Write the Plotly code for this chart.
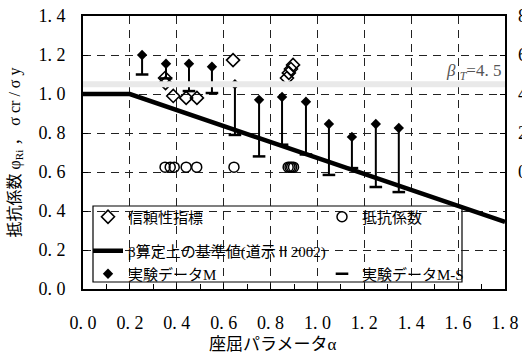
import plotly.graph_objects as go

# ---------------- data ----------------
# experimental data M (filled diamonds) and M-S (dash) versus buckling parameter alpha
alpha_exp = [0.252, 0.354, 0.452, 0.550, 0.648, 0.751, 0.849, 0.951, 1.049, 1.147, 1.249, 1.347]
phi_M = [1.20, 1.155, 1.155, 1.14, 1.05, 0.97, 0.985, 0.96, 0.846, 0.78, 0.846, 0.826]
phi_MS = [1.10, 1.08, 1.015, 1.005, 0.79, 0.68, 0.74, 0.69, 0.585, 0.62, 0.523, 0.497]

# reliability index (open diamonds, right axis)
alpha_beta = [0.350, 0.352, 0.385, 0.440, 0.486, 0.640, 0.870, 0.878, 0.887, 0.896]
beta_vals = [4.82, 4.56, 3.90, 3.80, 3.80, 5.74, 4.82, 5.08, 5.28, 5.49]

# resistance factor (open circles)
alpha_phi = [0.350, 0.372, 0.389, 0.440, 0.485, 0.644, 0.875, 0.883, 0.890, 0.898]
phi_vals = [0.625, 0.625, 0.625, 0.625, 0.625, 0.625, 0.625, 0.625, 0.625, 0.625]

# design basis curve (道示II 2002)
alpha_base = [0.0, 0.2, 1.8]
phi_base = [1.0, 1.0, 0.344]

# target reliability index
alpha_target = [0.0, 1.8]
beta_target = [4.5, 4.5]

x_ticks = [0.0, 0.2, 0.4, 0.6, 0.8, 1.0, 1.2, 1.4, 1.6, 1.8]
x_ticktext = ["0. 0", "0. 2", "0. 4", "0. 6", "0. 8", "1. 0", "1. 2", "1. 4", "1. 6", "1. 8"]
y_ticks = [0.0, 0.2, 0.4, 0.6, 0.8, 1.0, 1.2, 1.4]
y_ticktext = ["0. 0", "0. 2", "0. 4", "0. 6", "0. 8", "1. 0", "1. 2", "1. 4"]
y2_ticks = [0, 2, 4, 6, 8]

names = ["信頼性指標", "抵抗係数", "β算定上の基準値(道示Ⅱ2002)", "実験データM", "実験データM-S"]

# ---------------- figure ----------------
FONT = "Liberation Serif, Noto Sans CJK JP, serif"
W, H = 522, 355
L, R, T, B = 83, 17, 16, 66
pw, ph = W - L - R, H - T - B


def px_x(p):
    return (p - L) / pw


def px_y(p):
    return (H - B - p) / ph


fig = go.Figure()

fig.add_trace(go.Scatter(
    x=alpha_phi, y=phi_vals, mode="markers", name=names[1],
    marker=dict(symbol="circle-open", size=10, color="black", line=dict(width=1.5)),
    legend="legend2"))

fig.add_trace(go.Scatter(
    x=alpha_beta, y=beta_vals, mode="markers", name=names[0], yaxis="y2",
    marker=dict(symbol="diamond-open", size=10, color="black", line=dict(width=1.6)),
    legend="legend"))

fig.add_trace(go.Scatter(
    x=alpha_base, y=phi_base, mode="lines", name=names[2],
    line=dict(color="black", width=4.5),
    legend="legend3"))

fig.add_trace(go.Scatter(
    x=alpha_exp, y=phi_M, mode="markers", name=names[3],
    marker=dict(symbol="diamond", size=8, color="black"),
    error_y=dict(type="data", symmetric=False, array=[0] * len(phi_M),
                 arrayminus=[m - s for m, s in zip(phi_M, phi_MS)],
                 thickness=2, width=0, color="black"),
    legend="legend4"))

fig.add_trace(go.Scatter(
    x=alpha_exp, y=phi_MS, mode="markers", name=names[4],
    marker=dict(symbol="line-ew", size=9, color="black", line=dict(width=2.5, color="black")),
    legend="legend5"))

fig.add_trace(go.Scatter(
    x=alpha_target, y=beta_target, mode="lines", yaxis="y2", showlegend=False,
    line=dict(color="#e9e9e9", width=6), hoverinfo="skip"))

# legend frame
fig.add_shape(type="rect", xref="paper", yref="paper",
              x0=px_x(93), x1=px_x(462), y0=px_y(282), y1=px_y(206),
              line=dict(color="black", width=1.2), fillcolor="white", layer="between")

leg_common = dict(bgcolor="rgba(0,0,0,0)", borderwidth=0, xanchor="left", yanchor="middle",
                  font=dict(family=FONT, size=15, color="black"), itemwidth=30)
c1, c2 = px_x(88), px_x(322)
r1, r2, r3 = px_y(217), px_y(251), px_y(274)

fig.update_layout(
    width=W, height=H,
    margin=dict(l=L, r=R, t=T, b=B, autoexpand=False),
    paper_bgcolor="white", plot_bgcolor="white",
    font=dict(family=FONT, color="black"),
    legend=dict(x=c1, y=r1, **leg_common),
    legend2=dict(x=c2, y=r1, **leg_common),
    legend3=dict(x=c1, y=r2, **leg_common),
    legend4=dict(x=c1, y=r3, **leg_common),
    legend5=dict(x=c2, y=r3, **leg_common),
    xaxis=dict(range=[0, 1.8], tickvals=x_ticks, ticktext=x_ticktext, automargin=False,
               ticks="inside", ticklen=5, tickwidth=1, tickcolor="black",
               minor=dict(dtick=0.1, ticks="inside", ticklen=5, tickcolor="black", showgrid=False),
               showgrid=True, gridcolor="#222", gridwidth=1, griddash="8px,6px",
               showline=True, linecolor="black", linewidth=2, mirror=True, zeroline=False,
               tickfont=dict(family=FONT, size=18), ticklabelstandoff=16),
    yaxis=dict(range=[0, 1.4], tickvals=y_ticks, ticktext=y_ticktext, automargin=False,
               ticks="inside", ticklen=5, tickwidth=1, tickcolor="black",
               showgrid=True, gridcolor="#222", gridwidth=1, griddash="8px,6px",
               showline=True, linecolor="black", linewidth=2, mirror=True, zeroline=False,
               tickfont=dict(family=FONT, size=18), ticklabelstandoff=12,
               title=dict(text="抵抗係数 φ<sub>Ri</sub> ， σ cr / σ y",
                          font=dict(family=FONT, size=16), standoff=14)),
    yaxis2=dict(range=[-6, 8], tickvals=y2_ticks, overlaying="y", side="right", automargin=False,
                ticks="inside", ticklen=5, tickcolor="black", showgrid=False, zeroline=False,
                showline=False, tickfont=dict(family=FONT, size=18), ticklabelstandoff=12),
    annotations=[
        dict(text="座屈パラメータα", xref="paper", yref="paper", x=px_x(272), y=px_y(344),
             xanchor="center", yanchor="middle", showarrow=False,
             font=dict(family=FONT, size=17, color="black")),
        dict(text="<i>β</i> <sub><i>T</i></sub>=4. 5", xref="paper", yref="paper",
             x=px_x(503), y=px_y(72), xanchor="right", yanchor="middle", showarrow=False,
             font=dict(family=FONT, size=17, color="#555")),
    ],
)

fig.write_html("out.html", config={"displayModeBar": False},
               post_script="document.body.style.margin='0';document.body.style.overflow='hidden';")
